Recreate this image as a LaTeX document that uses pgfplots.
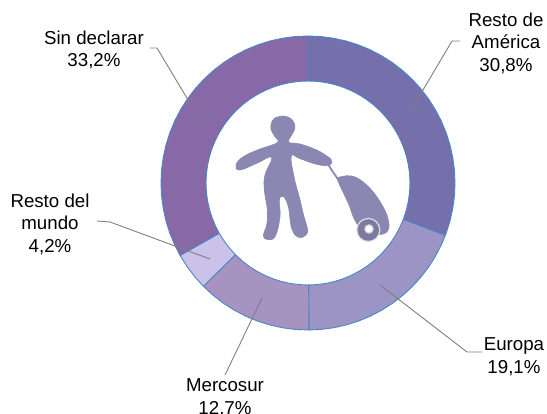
\documentclass[border=0pt]{standalone}
\usepackage{pgfplots}
\pgfplotsset{compat=1.18}
\usepackage{fontspec}
\setmainfont{Liberation Sans}
\definecolor{cA}{HTML}{7570AC}
\definecolor{cB}{HTML}{9B94C4}
\definecolor{cC}{HTML}{A693C0}
\definecolor{cD}{HTML}{CBC2EA}
\definecolor{cE}{HTML}{8769A8}
\definecolor{edge}{HTML}{4A86C5}
\definecolor{lead}{HTML}{7F7F7F}
\definecolor{fig}{HTML}{8A88B2}
\tikzset{lab/.style={align=center, font=\fontsize{18.7}{22.5}\selectfont, inner sep=0pt, text=black}}
\pgfplotsset{
  wedge/.style={draw=edge, line width=0.9pt, line join=round, data cs=polar, forget plot},
  sil/.style={fill=fig, draw=fig, line width=0.6pt, smooth, tension=0.7, no marks, forget plot},
  leader/.style={draw=lead, line width=0.9pt, forget plot, no marks},
}
\begin{document}
\begin{tikzpicture}
\path[use as bounding box] (0,0) rectangle (547pt,414pt);
\begin{axis}[
  at={(0,0)}, anchor=south west,
  scale only axis, width=547pt, height=414pt,
  xmin=-308, xmax=239, ymin=-231, ymax=183,
  hide axis, clip=false,
]
% Resto de America 30.8
\addplot[wedge, fill=cA] coordinates {(90,147)(85,147)(80,147)(75,147)(70,147)(65,147)(60,147)(55,147)(50,147)(45,147)(40,147)(35,147)(30,147)(25,147)(20,147)(15,147)(10,147)(5,147)(0,147)(-5,147)(-10,147)(-15,147)(-20,147)(-20.88,147)
(-20.88,102)(-20,102)(-15,102)(-10,102)(-5,102)(0,102)(5,102)(10,102)(15,102)(20,102)(25,102)(30,102)(35,102)(40,102)(45,102)(50,102)(55,102)(60,102)(65,102)(70,102)(75,102)(80,102)(85,102)(90,102)} --cycle;
% Europa 19.1
\addplot[wedge, fill=cB] coordinates {(-20.88,147)(-25,147)(-30,147)(-35,147)(-40,147)(-45,147)(-50,147)(-55,147)(-60,147)(-65,147)(-70,147)(-75,147)(-80,147)(-85,147)(-89.64,147)
(-89.64,102)(-85,102)(-80,102)(-75,102)(-70,102)(-65,102)(-60,102)(-55,102)(-50,102)(-45,102)(-40,102)(-35,102)(-30,102)(-25,102)(-20.88,102)} --cycle;
% Mercosur 12.7
\addplot[wedge, fill=cC] coordinates {(-89.64,147)(-95,147)(-100,147)(-105,147)(-110,147)(-115,147)(-120,147)(-125,147)(-130,147)(-135.36,147)
(-135.36,102)(-130,102)(-125,102)(-120,102)(-115,102)(-110,102)(-105,102)(-100,102)(-95,102)(-89.64,102)} --cycle;
% Resto del mundo 4.2
\addplot[wedge, fill=cD] coordinates {(-135.36,147)(-140,147)(-145,147)(-150.48,147)
(-150.48,102)(-145,102)(-140,102)(-135.36,102)} --cycle;
% Sin declarar 33.2
\addplot[wedge, fill=cE] coordinates {(-150.48,147)(-155,147)(-160,147)(-165,147)(-170,147)(-175,147)(-180,147)(-185,147)(-190,147)(-195,147)(-200,147)(-205,147)(-210,147)(-215,147)(-220,147)(-225,147)(-230,147)(-235,147)(-240,147)(-245,147)(-250,147)(-255,147)(-260,147)(-265,147)(-270,147)
(-270,102)(-265,102)(-260,102)(-255,102)(-250,102)(-245,102)(-240,102)(-235,102)(-230,102)(-225,102)(-220,102)(-215,102)(-210,102)(-205,102)(-200,102)(-195,102)(-190,102)(-185,102)(-180,102)(-175,102)(-170,102)(-165,102)(-160,102)(-155,102)(-150.48,102)} --cycle;

% person (outline, 3x crop coordinates)
\addplot[sil] table[x expr=\thisrow{x}/3-88, y expr=83-\thisrow{y}/3] {
x y
187 48
208 53
222 68
224 88
213 108
207 127
240 132
290 150
320 168
334 180
328 196
290 193
240 176
214 168
222 230
240 300
252 350
262 385
258 405
235 412
215 385
205 320
190 290
178 300
180 350
165 410
140 418
130 405
140 375
142 330
133 270
135 225
155 172
110 190
60 210
48 195
70 170
120 147
172 128
165 110
153 88
156 64
168 52
} --cycle;
% suitcase handle and body
\addplot[draw=fig, line width=1.8pt, no marks, forget plot] table[x expr=\thisrow{x}/3-88, y expr=83-\thisrow{y}/3] {
x y
325 195
352 235
};
\addplot[sil] table[x expr=\thisrow{x}/3-88, y expr=83-\thisrow{y}/3] {
x y
350 234
395 228
440 255
480 305
505 360
498 398
450 400
410 370
385 310
362 262
} --cycle;
% wheel
\addplot[only marks, mark=*, mark size=11.5pt, mark options={fill=fig!90!black, draw=black!12, line width=1.2pt}, forget plot] coordinates {(60.3,-47)};
\addplot[only marks, mark=*, mark size=4.2pt, mark options={fill=white, draw=white!60!fig, line width=1.2pt}, forget plot] coordinates {(61,-46)};

% leaders
\addplot[leader] coordinates {(-158,135) (-151,135) (-108,63)};
\addplot[leader] coordinates {(152,142) (144,142) (102,71)};
\addplot[leader] coordinates {(-211,-38) (-198,-39) (-98,-76)};
\addplot[leader] coordinates {(72,-102) (159,-169) (174,-169)};
\addplot[leader] coordinates {(-46,-115) (-83,-192)};

% labels
\node[lab] at (axis cs:-214,133) {Sin declarar\\33,2\%};
\node[lab] at (axis cs:198,140) {Resto de\\América\\30,8\%};
\node[lab] at (axis cs:-258,-41) {Resto del\\mundo\\4,2\%};
\node[lab] at (axis cs:206,-174) {Europa\\19,1\%};
\node[lab] at (axis cs:-83,-215) {Mercosur\\12,7\%};
\end{axis}
\end{tikzpicture}
\end{document}
